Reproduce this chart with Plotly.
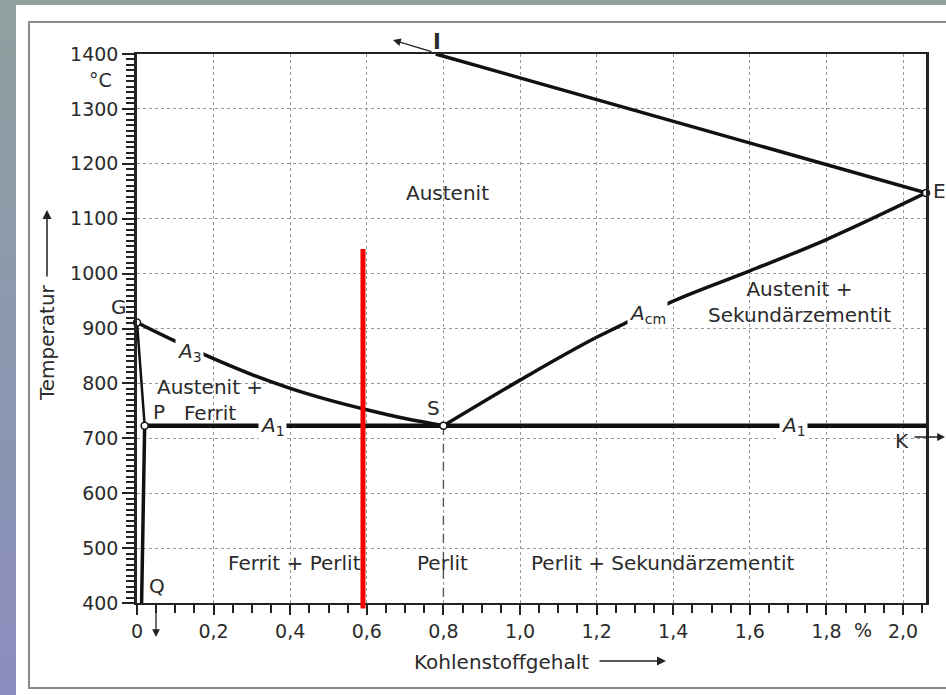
import plotly.graph_objects as go

# ---------------------------------------------------------------- data
# axis limits (carbon content in %, temperature in °C)
C_MIN, C_MAX = 0.0, 2.06
T_MIN, T_MAX = 400, 1400

x_tick_vals = [0, 0.2, 0.4, 0.6, 0.8, 1.0, 1.2, 1.4, 1.6, 1.8, 2.0]
x_tick_text = ["0", "0,2", "0,4", "0,6", "0,8", "1,0", "1,2", "1,4", "1,6", "1,8", "2,0"]
y_tick_vals = [400, 500, 600, 700, 800, 900, 1000, 1100, 1200, 1300, 1400]
y_tick_text = ["400", "500", "600", "700", "800", "900", "1000", "1100", "1200", "1300", "1400"]

# solidus I-E
ie_c = [0.78, 2.06]
ie_t = [1400, 1147]

# A3 line G-S
gs_c = [0.0, 0.1, 0.2, 0.3, 0.4, 0.5, 0.6, 0.7, 0.8]
gs_t = [911, 877, 845, 816, 791, 770, 752, 736, 723]

# Acm line S-E
es_c = [0.8, 1.0, 1.2, 1.4, 1.6, 1.8, 2.06]
es_t = [723, 806, 884, 950, 1005, 1062, 1147]

# G-P and P-Q (ferrite boundary)
gp_c = [0.0, 0.02]
gp_t = [911, 723]
pq_c = [0.02, 0.016, 0.012]
pq_t = [723, 560, 400]

# A1 line P-K
a1_c = [0.02, 2.06]
a1_t = [723, 723]

# eutectoid composition, dropped to the axis
s_drop_c = [0.8, 0.8]
s_drop_t = [723, 400]

# characteristic points
point_names = ["G", "P", "S", "E"]
point_c = [0.0, 0.02, 0.8, 2.06]
point_t = [911, 723, 723, 1147]

# marked steel composition
steel_c = 0.59
steel_t = [390, 1045]

# phase field names
field_text = ["Austenit", "Austenit +<br>Sekundärzementit", "Austenit +<br>Ferrit",
              "Ferrit + Perlit", "Perlit", "Perlit + Sekundärzementit"]
field_c = [0.81, 1.73, 0.19, 0.412, 0.798, 1.372]
field_t = [1147, 948, 769, 473, 473, 473]

# ---------------------------------------------------------------- layout geometry
W, H = 946, 695
PL, PR, PT, PB = 137, 926, 54, 603   # plot area edges in px

FONT = "DejaVu Sans"
TXT = "#2b2b2b"


def px_x(v):
    return (v - PL) / (PR - PL)


def px_y(v):
    return (PB - v) / (PB - PT)


def dx(c):
    return (c - C_MIN) / (C_MAX - C_MIN)


def dy(t):
    return (t - T_MIN) / (T_MAX - T_MIN)


fig = go.Figure()

line_kw = dict(mode="lines", hoverinfo="skip", showlegend=False)
fig.add_trace(go.Scatter(x=s_drop_c, y=s_drop_t, line=dict(color="#555", width=1.4, dash="dash"), **line_kw))
fig.add_trace(go.Scatter(x=ie_c, y=ie_t, line=dict(color="#111", width=3.5), **line_kw))
fig.add_trace(go.Scatter(x=gs_c, y=gs_t, line=dict(color="#111", width=3.5, shape="spline"), **line_kw))
fig.add_trace(go.Scatter(x=es_c, y=es_t, line=dict(color="#111", width=3.5, shape="spline"), **line_kw))
fig.add_trace(go.Scatter(x=gp_c, y=gp_t, line=dict(color="#111", width=2.5), **line_kw))
fig.add_trace(go.Scatter(x=pq_c, y=pq_t, line=dict(color="#111", width=3.5, shape="spline"), **line_kw))
fig.add_trace(go.Scatter(x=a1_c, y=a1_t, line=dict(color="#111", width=4.5), **line_kw))
fig.add_trace(go.Scatter(
    x=point_c, y=point_t, mode="markers", cliponaxis=False, hoverinfo="skip", showlegend=False,
    marker=dict(size=7, color="white", line=dict(color="#111", width=1.5)),
))

# ---------------------------------------------------------------- background and frame
shapes = []
c_top = (0x8F, 0xA0, 0x9F)
c_bot = (0x8A, 0x8E, 0xBE)
n = 40
for i in range(n):
    f = i / (n - 1)
    col = "rgb(%d,%d,%d)" % tuple(round(a + (b - a) * f) for a, b in zip(c_top, c_bot))
    y0 = H * i / n
    y1 = H * (i + 1) / n + 1
    shapes.append(dict(type="rect", xref="paper", yref="paper", layer="below",
                       x0=px_x(0), x1=px_x(16), y0=px_y(y1), y1=px_y(y0),
                       fillcolor=col, line=dict(width=0)))
shapes.append(dict(type="rect", xref="paper", yref="paper", layer="below",
                   x0=px_x(0), x1=px_x(W), y0=px_y(5), y1=px_y(0),
                   fillcolor="rgb(143,160,159)", line=dict(width=0)))
shapes.append(dict(type="rect", xref="paper", yref="paper", layer="below",
                   x0=px_x(29), x1=px_x(952), y0=px_y(688), y1=px_y(22),
                   fillcolor="rgba(0,0,0,0)", line=dict(color="#8a8a8a", width=2)))
# marked composition
shapes.append(dict(type="line", xref="x", yref="paper", layer="above",
                   x0=steel_c, x1=steel_c, y0=dy(steel_t[0]), y1=dy(steel_t[1]),
                   line=dict(color="#f20000", width=5)))
fig.update_layout(shapes=shapes)

# ---------------------------------------------------------------- text
ann = []


def text(x, y, s, size=20, bg=None, xanchor="center", yanchor="middle", angle=0):
    a = dict(xref="paper", yref="paper", x=x, y=y, text=s, showarrow=False,
             xanchor=xanchor, yanchor=yanchor, textangle=angle, align="center",
             font=dict(family=FONT, size=size, color=TXT))
    if bg:
        a.update(bgcolor=bg, borderpad=1)
    ann.append(a)


def arrow(x, y, ax, ay, width=1.3):
    ann.append(dict(xref="paper", yref="paper", x=x, y=y, ax=ax, ay=ay, text="",
                    showarrow=True, arrowhead=2, arrowsize=1.2, arrowwidth=width,
                    arrowcolor="#222"))


for s, c, t in zip(field_text, field_c, field_t):
    text(dx(c), dy(t), s)

# point names
text(px_x(119), px_y(307), "G")
text(px_x(159), px_y(412), "P")
text(px_x(433), px_y(408), "S")
text(px_x(939), px_y(191), "E")
text(px_x(902), px_y(441), "K")
text(px_x(157), px_y(586), "Q")
text(px_x(437), px_y(42), "<b>I</b>", size=21)

# transformation line names
text(dx(0.138), dy(858), "<i>A</i><sub>3</sub>", bg="white")
text(dx(0.355), dy(722), "<i>A</i><sub>1</sub>", bg="white")
text(dx(1.713), dy(722), "<i>A</i><sub>1</sub>", bg="white")
text(dx(1.333), dy(926), "<i>A</i><sub>cm</sub>", bg="white")

# leader arrows
arrow(px_x(393), px_y(40), 40, 12)
arrow(px_x(945), px_y(437), -32, 0)
arrow(px_x(156), px_y(637), 0, -32)

# axis titles and units
text(px_x(100), px_y(80), "°C", size=19)
text(px_x(863), px_y(630), "%", size=19)
text(px_x(501), px_y(662), "Kohlenstoffgehalt", size=20)
arrow(px_x(666), px_y(661), -68, 0, width=1.5)
text(px_x(47), px_y(343), "Temperatur", size=20, angle=-90)
arrow(px_x(47), px_y(210), 0, 68, width=1.5)

fig.update_layout(annotations=ann)

# ---------------------------------------------------------------- axes
fig.update_xaxes(
    range=[C_MIN, C_MAX], tickmode="array", tickvals=x_tick_vals, ticktext=x_tick_text,
    showgrid=True, gridcolor="#9a9a9a", gridwidth=1, griddash="dot", zeroline=False,
    showline=True, linecolor="#222", linewidth=2, mirror=True,
    ticks="outside", ticklen=10, tickwidth=2, tickcolor="#222",
    minor=dict(dtick=0.05, tick0=0, ticks="outside", ticklen=8, tickwidth=2, tickcolor="#222", showgrid=False),
    tickfont=dict(family=FONT, size=19, color=TXT), fixedrange=True,
)
fig.update_yaxes(
    range=[T_MIN, T_MAX], tickmode="array", tickvals=y_tick_vals, ticktext=y_tick_text,
    showgrid=True, gridcolor="#9a9a9a", gridwidth=1, griddash="dot", zeroline=False,
    showline=True, linecolor="#222", linewidth=2.5, mirror=True,
    ticks="outside", ticklen=12, tickwidth=2, tickcolor="#222",
    minor=dict(dtick=10, tick0=400, ticks="outside", ticklen=8, tickwidth=1.6, tickcolor="#222", showgrid=False),
    tickfont=dict(family=FONT, size=19, color=TXT), fixedrange=True,
)

fig.update_layout(
    width=W, height=H,
    margin=dict(l=PL, r=W - PR, t=PT, b=H - PB, autoexpand=False),
    paper_bgcolor="white", plot_bgcolor="rgba(0,0,0,0)",
    showlegend=False,
)

fig.write_html("out.html", config={"displayModeBar": False})
